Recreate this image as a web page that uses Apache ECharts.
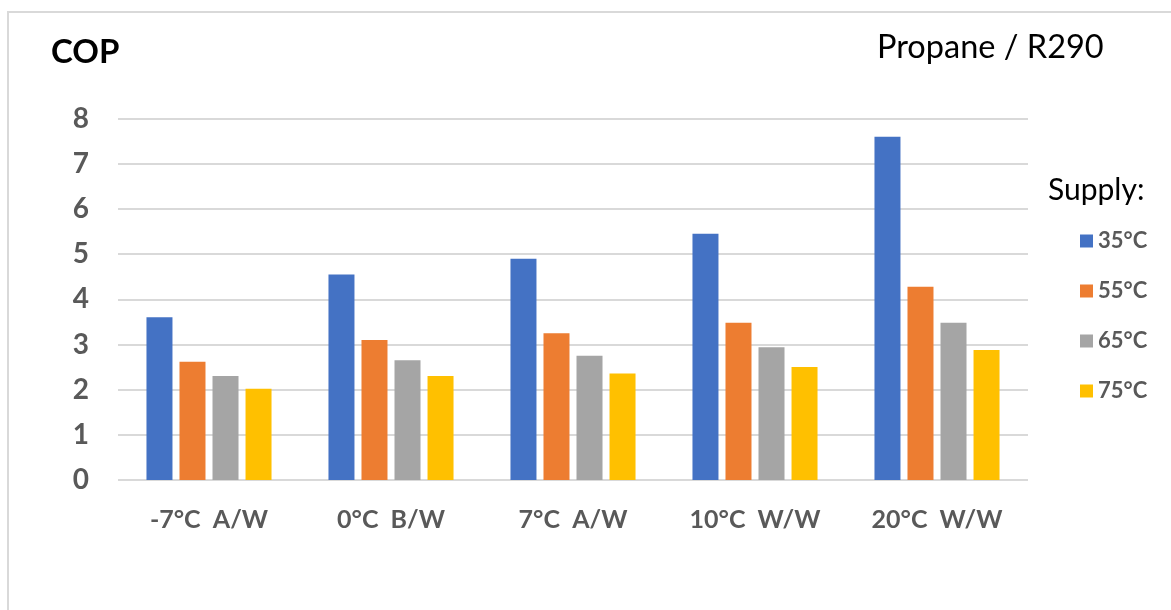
<!DOCTYPE html>
<html>
<head>
<meta charset="utf-8">
<script src="https://cdn.jsdelivr.net/npm/echarts@6/dist/echarts.min.js"></script>
<style>
  html, body { margin: 0; padding: 0; background: #ffffff; }
  #chart { width: 1171px; height: 610px; }
</style>
</head>
<body>
<div id="chart"></div>
<script>
// Test conditions (source temperature / system type)
const categories = ['-7°C  A/W', '0°C  B/W', '7°C  A/W', '10°C  W/W', '20°C  W/W'];

// COP per supply temperature
const supply35 = [3.6, 4.55, 4.9, 5.45, 7.6];
const supply55 = [2.62, 3.1, 3.25, 3.48, 4.28];
const supply65 = [2.3, 2.65, 2.75, 2.94, 3.48];
const supply75 = [2.02, 2.3, 2.36, 2.5, 2.88];

const seriesNames = ['35°C', '55°C', '65°C', '75°C'];
const seriesColors = ['#4472C4', '#ED7D31', '#A5A5A5', '#FFC000'];
const seriesValues = [supply35, supply55, supply65, supply75];

const yTicks = { min: 0, max: 8, interval: 1 };

const FONT = 'Lato';
const GRAY_TEXT = '#595959';
const GRID_LINE = '#D9D9D9';

const chart = echarts.init(document.getElementById('chart'), null, { renderer: 'canvas' });

chart.setOption({
  backgroundColor: '#ffffff',
  animation: false,
  textStyle: { fontFamily: FONT },
  grid: { left: 118, right: 143, top: 118.6, bottom: 130, containLabel: false },
  graphic: [
    // chart area frame
    {
      type: 'rect',
      shape: { x: 8, y: 12, width: 1200, height: 700 },
      style: { fill: 'none', stroke: '#D9D9D9', lineWidth: 2 },
      silent: true
    },
    {
      type: 'text', left: 51, top: 36,
      style: { text: 'COP', font: 'bold 33px ' + FONT, fill: '#000000' }
    },
    {
      type: 'text', left: 877, top: 31,
      style: { text: 'Propane / R290', font: '32.5px ' + FONT, fill: '#000000' }
    },
    {
      type: 'text', left: 1048, top: 175,
      style: { text: 'Supply:', font: '30px ' + FONT, fill: '#000000' }
    }
  ],
  legend: {
    orient: 'vertical',
    left: 1075,
    top: 225,
    itemWidth: 13,
    itemHeight: 13,
    itemGap: 28,
    icon: 'rect',
    data: seriesNames,
    textStyle: { fontFamily: FONT, fontSize: 22, fontWeight: 'bold', color: GRAY_TEXT, lineHeight: 22 }
  },
  xAxis: {
    type: 'category',
    data: categories,
    axisLine: { show: false },
    axisTick: { show: false },
    axisLabel: {
      margin: 27,
      fontFamily: FONT,
      fontSize: 25,
      fontWeight: 'bold',
      color: GRAY_TEXT
    }
  },
  yAxis: {
    type: 'value',
    min: yTicks.min,
    max: yTicks.max,
    interval: yTicks.interval,
    axisLine: { show: false },
    axisTick: { show: false },
    splitLine: { lineStyle: { color: GRID_LINE, width: 2 } },
    axisLabel: {
      margin: 29,
      fontFamily: FONT,
      fontSize: 28,
      fontWeight: 'bold',
      color: GRAY_TEXT
    }
  },
  series: seriesNames.map((name, i) => ({
    name: name,
    type: 'bar',
    data: seriesValues[i],
    barWidth: 26,
    barGap: '27%',
    itemStyle: { color: seriesColors[i] }
  }))
});
</script>
</body>
</html>
